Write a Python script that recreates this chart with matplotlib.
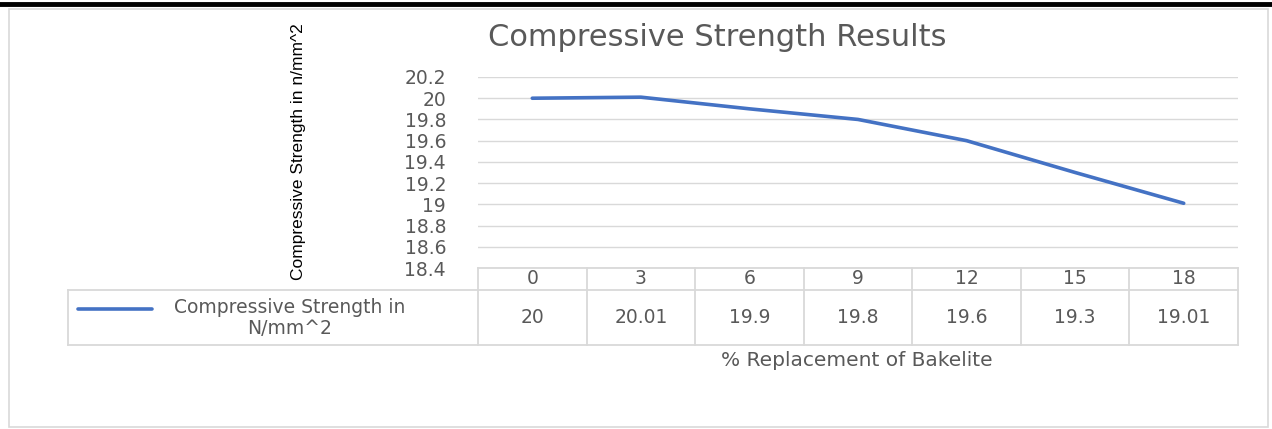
import matplotlib.pyplot as plt
from matplotlib.patches import Rectangle
from matplotlib.lines import Line2D

replacement = ["0", "3", "6", "9", "12", "15", "18"]
strength = [20, 20.01, 19.9, 19.8, 19.6, 19.3, 19.01]
strength_labels = ["20", "20.01", "19.9", "19.8", "19.6", "19.3", "19.01"]
yticks = [18.4, 18.6, 18.8, 19, 19.2, 19.4, 19.6, 19.8, 20, 20.2]
ytick_labels = ["18.4", "18.6", "18.8", "19", "19.2", "19.4", "19.6", "19.8", "20", "20.2"]
series_name = "Compressive Strength in\nN/mm^2"

W, H = 1272, 429
plt.rcParams['font.family'] = ['DejaVu Sans']
fig = plt.figure(figsize=(W / 100, H / 100), dpi=100)
fig.patch.set_facecolor('white')

def fx(px):
    return px / W

def fy(py):
    return 1 - py / H

# page decoration: black rule at top and chart border
fig.add_artist(Line2D([0, 1], [fy(4), fy(4)], color='black', lw=3.5))
fig.add_artist(Rectangle((fx(9), fy(427)), fx(1268 - 9), fy(9) - fy(427),
                         fill=False, edgecolor='#d9d9d9', lw=1.2))

ax_l, ax_r, ax_t, ax_b = 478, 1238, 77, 268
ax = fig.add_axes([fx(ax_l), fy(ax_b), fx(ax_r - ax_l), fy(ax_t) - fy(ax_b)])
x = list(range(len(replacement)))
ax.plot(x, strength, color='#4472c4', lw=2.6, solid_capstyle='round', zorder=3)
ax.set_xlim(-0.5, len(replacement) - 0.5)
ax.set_ylim(18.4, 20.2)
ax.set_yticks(yticks)
ax.set_yticklabels(ytick_labels)
ax.tick_params(axis='y', length=0, pad=23, labelsize=13.5, labelcolor='#595959')
ax.set_xticks([])
ax.grid(axis='y', color='#d9d9d9', lw=1)
for s in ax.spines.values():
    s.set_visible(False)
ax.set_facecolor('none')

# data table under the axes
tr = ax.get_xaxis_transform()
axh = ax_b - ax_t
def ay(py):
    return (ax_b - py) / axh

head_b = ay(290)
row_b = ay(345)
lc = dict(color='#d9d9d9', lw=1.3, clip_on=False)
for i in range(len(replacement) + 1):
    ax.plot([i - 0.5, i - 0.5], [0, row_b], transform=tr, **lc)
ax.plot([-0.5, len(replacement) - 0.5], [head_b, head_b], transform=tr, **lc)
ax.plot([-0.5, len(replacement) - 0.5], [row_b, row_b], transform=tr, **lc)
ax.plot([-0.5, len(replacement) - 0.5], [0, 0], transform=tr, **lc)
colw = (ax_r - ax_l) / len(replacement)
leg_l = -0.5 - (ax_l - 68) / colw
ax.plot([leg_l, -0.5], [head_b, head_b], transform=tr, **lc)
ax.plot([leg_l, -0.5], [row_b, row_b], transform=tr, **lc)
ax.plot([leg_l, leg_l], [head_b, row_b], transform=tr, **lc)

for i, (c, v) in enumerate(zip(replacement, strength_labels)):
    ax.text(i, (0 + head_b) / 2, c, transform=tr, ha='center', va='center',
            fontsize=13.5, color='#595959')
    ax.text(i, (head_b + row_b) / 2, v, transform=tr, ha='center', va='center',
            fontsize=13.5, color='#595959')

# legend key inside the table
k0 = -0.5 - (ax_l - 78) / colw
k1 = -0.5 - (ax_l - 152) / colw
ax.plot([k0, k1], [ay(309), ay(309)], transform=tr, color='#4472c4', lw=2.6,
        solid_capstyle='round', clip_on=False)
ax.text(-0.5 - (ax_l - 290) / colw, ay(318), series_name, transform=tr,
        ha='center', va='center', fontsize=13.5, color='#595959', linespacing=1.1)

fig.text(fx(857), fy(360), "% Replacement of Bakelite", ha='center', va='center',
         fontsize=14.5, color='#595959')
fig.text(fx(717), fy(37), "Compressive Strength Results", ha='center', va='center',
         fontsize=22, color='#595959')
fig.text(fx(298), fy(152), "Compressive Strength in n/mm^2", rotation=90,
         ha='center', va='center', fontsize=12.5, color='#000000',
         family=['Liberation Sans', 'DejaVu Sans'])

fig.savefig('out.png', dpi=100)
